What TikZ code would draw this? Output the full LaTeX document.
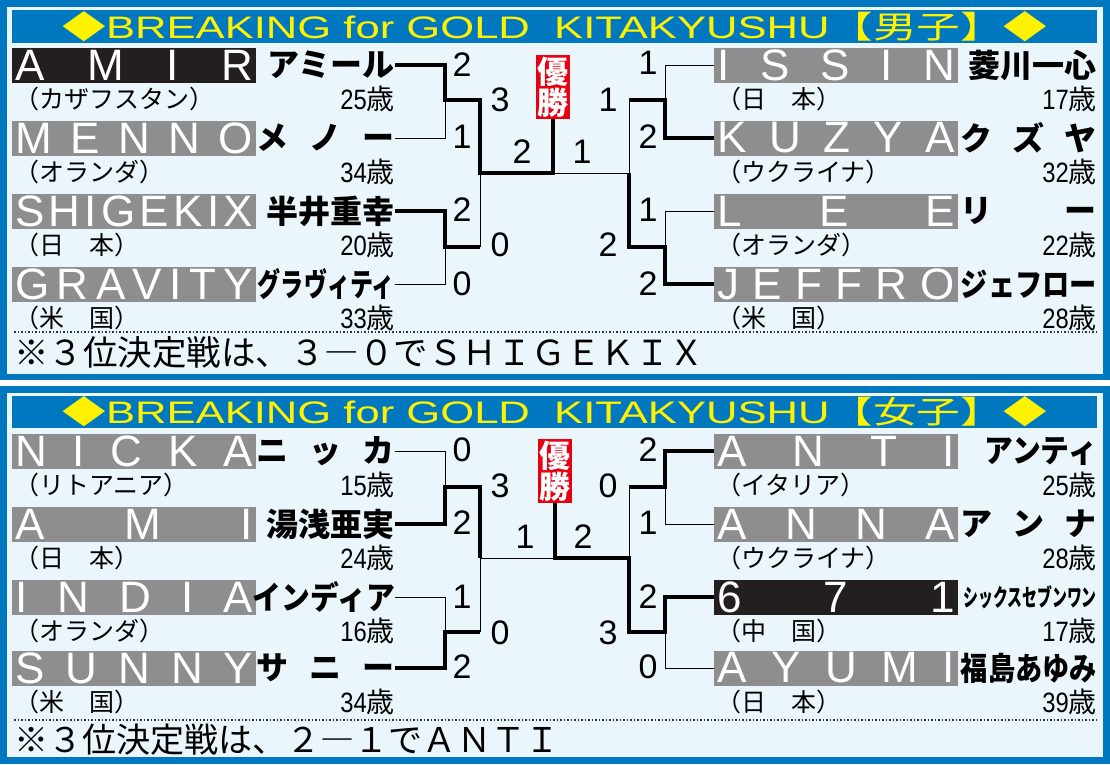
\documentclass[tikz,border=0pt]{standalone}
\usepackage{fontspec}
\usepackage{graphicx}
\setmainfont{Liberation Sans}
\setsansfont{Liberation Sans}
\newfontfamily\jp{Noto Sans CJK JP}
\definecolor{bblue}{HTML}{0078C0}
\definecolor{pbg}{HTML}{EAF6FC}
\definecolor{gbox}{HTML}{8E8E90}
\definecolor{kbox}{HTML}{231F20}
\definecolor{yel}{HTML}{FFF200}
\definecolor{wred}{HTML}{E60012}
\tikzset{
 namebox/.style={minimum width=244pt,minimum height=35pt,inner sep=0pt,text=white,font=\fontsize{44}{44}\selectfont,anchor=west},
 kana/.style={inner sep=0pt,anchor=east,font=\jp\bfseries\fontsize{32}{32}\selectfont},
 nat/.style={inner sep=0pt,anchor=west,font=\jp\fontsize{25}{25}\selectfont},
 agel/.style={inner sep=0pt,anchor=east,font=\fontsize{28}{28}\selectfont},
 score/.style={inner sep=0pt,font=\fontsize{34}{34}\selectfont},
 thinl/.style={line width=1pt,black},
 thickl/.style={line width=4.5pt,black,line join=miter},
 winbox/.style={fill=wred,text=white,inner sep=1.5pt,align=center,font=\jp\bfseries\fontsize{31}{31}\selectfont},
 titlet/.style={text=yel,inner sep=0pt},
 foot/.style={inner sep=0pt,anchor=west},
}
\newcommand\spr[1]{\makebox[238pt][s]{#1}}
\newcommand\agx[1]{\scalebox{0.85}[1]{#1}{\jp 歳}}
% id, box x, y, fill, letters, kana x, kana, nation, age
\newcommand\pl[9]{%
 \node[namebox,fill=#4] (#1) at (#2,#3) {\spr{#5}};
 \node[kana] (#1k) at (#6,#3) {#7};
 \node[nat] (#1n) at (#2+2,#3+34) {#8};
 \node[agel] (#1a) at (#6,#3+34) {\agx{#9}};}
\begin{document}
\begin{tikzpicture}[x=1pt,y=-1pt]
\useasboundingbox (0,0) rectangle (1110,764);
\fill[bblue] (0,0) rectangle (1110,764);
\fill[white] (0,380) rectangle (1110,386);
\fill[pbg] (7,7) rectangle (1103,374);
\fill[pbg] (7,393) rectangle (1103,757);
\fill[bblue] (12,10) rectangle (1097,43);
\fill[bblue] (12,396) rectangle (1097,428);
\node[titlet] (t1) at (555,27) {\resizebox{985pt}{27pt}{{\jp ◆}BREAKING for GOLD\ \ KITAKYUSHU{\jp 【男子】◆}}};
\node[titlet] (t2) at (555,412) {\resizebox{985pt}{27pt}{{\jp ◆}BREAKING for GOLD\ \ KITAKYUSHU{\jp 【女子】◆}}};
% top panel
\pl{amir}{12}{65}{kbox}{A\hfill M\hfill I\hfill R}{395}{アミール}{（カザフスタン）}{25}
\pl{menno}{12}{138}{gbox}{M\hfill E\hfill N\hfill N\hfill O}{395}{\makebox[138pt][s]{メ\hfill ノ\hfill ー}}{（オランダ）}{34}
\pl{shig}{12}{211}{gbox}{S\hfill H\hfill I\hfill G\hfill E\hfill K\hfill I\hfill X}{395}{半井重幸}{（日\quad 本）}{20}
\pl{grav}{12}{284}{gbox}{G\hfill R\hfill A\hfill V\hfill I\hfill T\hfill Y}{395}{\scalebox{0.72}[1]{グラヴィティ}}{（米\quad 国）}{33}
\pl{issin}{714}{65}{gbox}{I\hfill S\hfill S\hfill I\hfill N}{1097}{菱川一心}{（日\quad 本）}{17}
\pl{kuzya}{714}{138}{gbox}{K\hfill U\hfill Z\hfill Y\hfill A}{1097}{\makebox[136pt][s]{ク\hfill ズ\hfill ヤ}}{（ウクライナ）}{32}
\pl{lee}{714}{211}{gbox}{L\hfill E\hfill E}{1097}{\makebox[136pt][s]{リ\hfill ー}}{（オランダ）}{22}
\pl{jeff}{714}{284}{gbox}{J\hfill E\hfill F\hfill F\hfill R\hfill O}{1097}{\scalebox{0.85}[1]{ジェフロー}}{（米\quad 国）}{28}
\node[winbox] (win1) at (553,87) {優\\勝};
\coordinate (tl1) at (445,100); \coordinate (tl2) at (445,247);
\coordinate (tlf) at (480,173); \coordinate (tr1) at (665,100);
\coordinate (tr2) at (665,247); \coordinate (trf) at (629,173);
\coordinate (tc) at (553,173);
\draw[thickl] (amirk.east) -| (tl1) -- (480,100) -- (tlf) -- (tc) -- (win1.south);
\draw[thinl] (mennok.east) -| (tl1);
\draw[thickl] (shigk.east) -| (tl2) -- (480,247);
\draw[thinl] (480,247) -- (tlf);
\draw[thinl] (gravk.east) -| (tl2);
\draw[thinl] (issin.west) -| (tr1);
\draw[thickl] (kuzya.west) -| (tr1) -- (629,100);
\draw[thinl] (629,100) -- (trf) -- (tc);
\draw[thinl] (lee.west) -| (tr2);
\draw[thickl] (jeff.west) -| (tr2) -- (629,247) -- (trf);
\node[score] (s1) at (462,65) {2}; \node[score] (s2) at (500,100) {3};
\node[score] (s3) at (462,137) {1}; \node[score] (s4) at (522,152) {2};
\node[score] (s5) at (462,210) {2}; \node[score] (s6) at (500,245) {0};
\node[score] (s7) at (462,284) {0};
\node[score] (s8) at (648,63) {1}; \node[score] (s9) at (608,100) {1};
\node[score] (s10) at (648,137) {2}; \node[score] (s11) at (582,152) {1};
\node[score] (s12) at (648,210) {1}; \node[score] (s13) at (608,245) {2};
\node[score] (s14) at (648,284) {2};
\draw[dotted,line width=1.5pt,black!80] (14,332) -- (1096,332);
\node[foot] (f1) at (14,352) {\resizebox{690pt}{!}{\jp ※３位決定戦は、３―０でＳＨＩＧＥＫＩＸ}};
% bottom panel
\pl{nicka}{12}{451}{gbox}{N\hfill I\hfill C\hfill K\hfill A}{395}{\makebox[138pt][s]{ニ\hfill ッ\hfill カ}}{（リトアニア）}{15}
\pl{ami}{12}{524}{gbox}{A\hfill M\hfill I}{395}{湯浅亜実}{（日\quad 本）}{24}
\pl{india}{12}{597}{gbox}{I\hfill N\hfill D\hfill I\hfill A}{395}{\scalebox{0.9}[1]{インディア}}{（オランダ）}{16}
\pl{sunny}{12}{668}{gbox}{S\hfill U\hfill N\hfill N\hfill Y}{395}{\makebox[138pt][s]{サ\hfill ニ\hfill ー}}{（米\quad 国）}{34}
\pl{anti}{714}{451}{gbox}{A\hfill N\hfill T\hfill I}{1097}{\scalebox{0.9}[1]{アンティ}}{（イタリア）}{25}
\pl{anna}{714}{524}{gbox}{A\hfill N\hfill N\hfill A}{1097}{\makebox[136pt][s]{ア\hfill ン\hfill ナ}}{（ウクライナ）}{28}
\pl{six}{714}{597}{kbox}{6\hfill 7\hfill 1}{1097}{\scalebox{0.62}[1]{\fontsize{24}{24}\selectfont シックスセブンワン}}{（中\quad 国）}{17}
\pl{ayumi}{714}{668}{gbox}{A\hfill Y\hfill U\hfill M\hfill I}{1097}{\scalebox{0.85}[1]{福島あゆみ}}{（日\quad 本）}{39}
\node[winbox] (win2) at (555,471) {優\\勝};
\coordinate (bl1) at (445,487); \coordinate (bl2) at (445,632);
\coordinate (blf) at (480,558); \coordinate (br1) at (665,487);
\coordinate (br2) at (665,632); \coordinate (brf) at (629,558);
\coordinate (bc) at (555,558);
\draw[thinl] (nickak.east) -| (bl1);
\draw[thickl] (amik.east) -| (bl1) -- (480,487) -- (blf);
\draw[thinl] (blf) -- (bc);
\draw[thinl] (indiak.east) -| (bl2);
\draw[thickl] (sunnyk.east) -| (bl2) -- (480,632);
\draw[thinl] (480,632) -- (blf);
\draw[thickl] (win2.south) -- (bc) -- (brf) -- (629,632) -- (br2) |- (six.west);
\draw[thickl] (anti.west) -| (br1) -- (629,487);
\draw[thinl] (629,487) -- (brf);
\draw[thinl] (anna.west) -| (br1);
\draw[thinl] (ayumi.west) -| (br2);
\node[score] (b1) at (462,450) {0}; \node[score] (b2) at (500,486) {3};
\node[score] (b3) at (462,523) {2}; \node[score] (b4) at (525,537) {1};
\node[score] (b5) at (462,597) {1}; \node[score] (b6) at (500,633) {0};
\node[score] (b7) at (462,667) {2};
\node[score] (b8) at (648,450) {2}; \node[score] (b9) at (608,486) {0};
\node[score] (b10) at (648,523) {1}; \node[score] (b11) at (583,537) {2};
\node[score] (b12) at (648,597) {2}; \node[score] (b13) at (608,633) {3};
\node[score] (b14) at (648,667) {0};
\draw[dotted,line width=1.5pt,black!80] (14,720) -- (1096,720);
\node[foot] (f2) at (14,740) {\resizebox{545pt}{!}{\jp ※３位決定戦は、２―１でＡＮＴＩ}};
\end{tikzpicture}
\end{document}
